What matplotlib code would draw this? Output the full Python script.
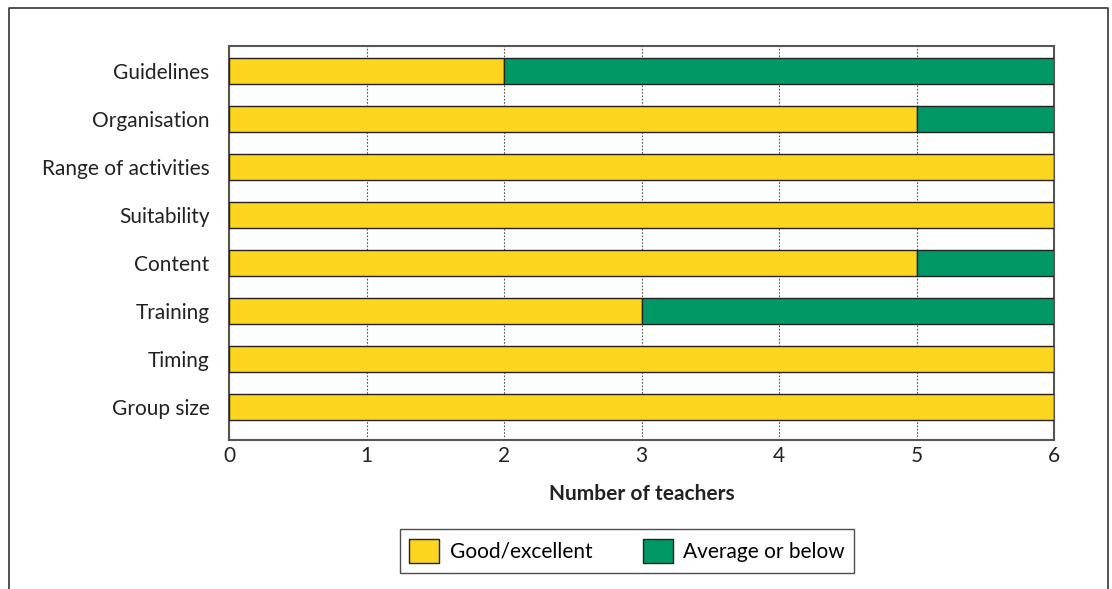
import matplotlib
matplotlib.use("Agg")
import matplotlib.pyplot as plt

plt.rcParams['font.family'] = ['Lato', 'DejaVu Sans']

categories = ["Guidelines", "Organisation", "Range of activities", "Suitability",
              "Content", "Training", "Timing", "Group size"]
good = [2, 5, 6, 6, 5, 3, 6, 6]
average = [4, 1, 0, 0, 1, 3, 0, 0]
xticks = [0, 1, 2, 3, 4, 5, 6]

YELLOW = "#FDD41E"
GREEN = "#009966"
EDGE = "#222222"

fig = plt.figure(figsize=(11.12, 5.89), dpi=100)
ax = fig.add_axes([229 / 1112, 1 - 440 / 589, (1054 - 229) / 1112, (440 - 46) / 589])

# outer frame (open at bottom)
fig.add_artist(plt.Line2D([9 / 1112, 9 / 1112, 1108 / 1112, 1108 / 1112],
                          [0, 1 - 8 / 589, 1 - 8 / 589, 0],
                          color="#333333", lw=1.2, transform=fig.transFigure))

y = list(range(len(categories)))
ax.barh(y, good, height=0.54, color=YELLOW, edgecolor=EDGE, linewidth=1.0,
        label="Good/excellent", zorder=3)
ax.barh(y, average, left=good, height=0.54, color=GREEN, edgecolor=EDGE, linewidth=1.0,
        label="Average or below", zorder=3)

ax.set_xlim(0, 6)
ax.set_ylim(7.69, -0.52)
ax.set_xticks(xticks)
ax.set_yticks(y)
ax.set_yticklabels(categories)
ax.tick_params(axis="both", length=0, labelsize=15, colors="#222222")
ax.tick_params(axis="y", pad=14)
ax.tick_params(axis="x", pad=4)
ax.grid(axis="x", linestyle=(0, (1.5, 1.5)), color="#555555", lw=0.8, zorder=0)
for s in ax.spines.values():
    s.set_color("#555555")
    s.set_linewidth(1.5)

ax.set_xlabel("Number of teachers", fontsize=15, fontweight="bold", color="#222222", labelpad=13)

leg = fig.legend(loc="center", bbox_to_anchor=(627 / 1112, 1 - 551 / 589), ncol=2,
                 fontsize=15, frameon=True, fancybox=False, edgecolor="#222222",
                 handlelength=1.45, handleheight=1.45, handletextpad=0.5,
                 columnspacing=2.4, borderpad=0.45, borderaxespad=0)
leg.get_frame().set_linewidth(1.0)

fig.savefig("out.png", dpi=100)
